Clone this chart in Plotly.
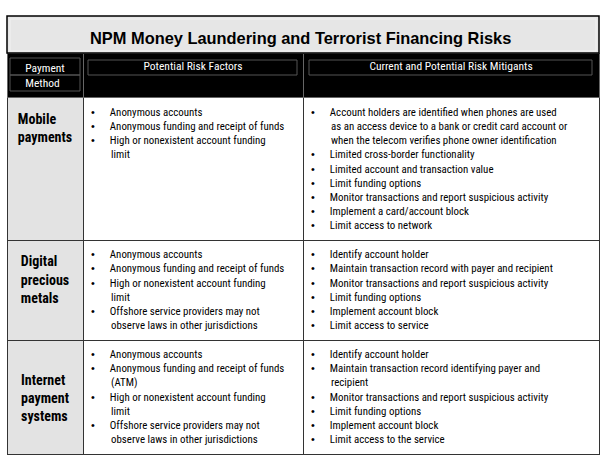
import plotly.graph_objects as go

# Table title and column headers
title = "NPM Money Laundering and Terrorist Financing Risks"
headers = ["Payment<br>Method", "Potential Risk Factors", "Current and Potential Risk Mitigants"]

# Payment methods (row labels)
methods = [["Mobile", "payments"], ["Digital", "precious", "metals"], ["Internet", "payment", "systems"]]

# Each bullet is a list of its wrapped lines
risk_factors = [
    [["Anonymous accounts"],
     ["Anonymous funding and receipt of funds"],
     ["High or nonexistent account funding", "limit"]],
    [["Anonymous accounts"],
     ["Anonymous funding and receipt of funds"],
     ["High or nonexistent account funding", "limit"],
     ["Offshore service providers may not", "observe laws in other jurisdictions"]],
    [["Anonymous accounts"],
     ["Anonymous funding and receipt of funds", "(ATM)"],
     ["High or nonexistent account funding", "limit"],
     ["Offshore service providers may not", "observe laws in other jurisdictions"]],
]

mitigants = [
    [["Account holders are identified when phones are used",
      "as an access device to a bank or credit card account or",
      "when the telecom verifies phone owner identification"],
     ["Limited cross-border functionality"],
     ["Limited account and transaction value"],
     ["Limit funding options"],
     ["Monitor transactions and report suspicious activity"],
     ["Implement a card/account block"],
     ["Limit access to network"]],
    [["Identify account holder"],
     ["Maintain transaction record with payer and recipient"],
     ["Monitor transactions and report suspicious activity"],
     ["Limit funding options"],
     ["Implement account block"],
     ["Limit access to service"]],
    [["Identify account holder"],
     ["Maintain transaction record identifying payer and", "recipient"],
     ["Monitor transactions and report suspicious activity"],
     ["Limit funding options"],
     ["Implement account block"],
     ["Limit access to the service"]],
]

NB = "\u00a0"
DOT = '<span style="font-family:Liberation Sans">\u2022</span>'


def bullets(items):
    # bullet + hanging indent made of non-breaking spaces
    out = []
    for lines in items:
        out.append(DOT + NB * 6 + lines[0])
        for extra in lines[1:]:
            out.append(NB * 8 + extra)
    return "<br>".join(out)


lead = ["<br>", "<br>", "<br><br>"]
method_col = [lead[i] + "<b>" + "<br>".join(m) + "</b>" for i, m in enumerate(methods)]
risk_col = [bullets(r) for r in risk_factors]
mitig_col = [bullets(m) for m in mitigants]

W, H = 607, 463
narrow = "Roboto Condensed, Liberation Sans"

fig = go.Figure()

fig.add_trace(go.Table(
    domain=dict(x=[7 / W, 599 / W], y=[2 / H, 410 / H]),
    columnwidth=[76, 220, 296],
    header=dict(
        values=headers,
        fill_color="black",
        line=dict(color="#666666", width=1),
        align="center",
        height=34,
        font=dict(family=narrow, size=11.5, color="white"),
    ),
    cells=dict(
        values=[method_col, risk_col, mitig_col],
        fill_color=[["#e3e3e3"] * 3, ["white"] * 3, ["white"] * 3],
        line=dict(color="#333333", width=1),
        align=["center", "left", "left"],
        height=20,
        font=dict(family=narrow, size=[14, 10.9, 10.9], color="black"),
    ),
))

# title band
fig.add_shape(type="rect", xref="paper", yref="paper",
              x0=7 / W, x1=599 / W, y0=1 - 53 / H, y1=1 - 16 / H,
              fillcolor="#e6e6e6", line=dict(color="black", width=1.5))
fig.add_shape(type="rect", xref="paper", yref="paper",
              x0=10 / W, x1=596 / W, y0=1 - 51 / H, y1=1 - 19 / H,
              line=dict(color="#f2f2f2", width=1))
fig.add_annotation(text="<b>" + title + "</b>", xref="paper", yref="paper",
                   x=300 / W, y=1 - 38 / H, yanchor="middle", showarrow=False,
                   font=dict(family="Liberation Sans, Arial", size=16.4, color="black"))

# thin grey frames inside the black header
for x0, x1, y0, y1 in [(10, 80, 58, 75), (10, 80, 75, 91), (88, 297, 60, 75), (309, 592, 60, 75)]:
    fig.add_shape(type="rect", xref="paper", yref="paper", layer="above",
                  x0=x0 / W, x1=x1 / W, y0=1 - y1 / H, y1=1 - y0 / H,
                  line=dict(color="#555555", width=1))

fig.update_layout(width=W, height=H, margin=dict(l=0, r=0, t=0, b=0),
                  paper_bgcolor="white")

fig.write_html("out.html", config={"displayModeBar": False},
               post_script="document.body.style.margin='0';")
